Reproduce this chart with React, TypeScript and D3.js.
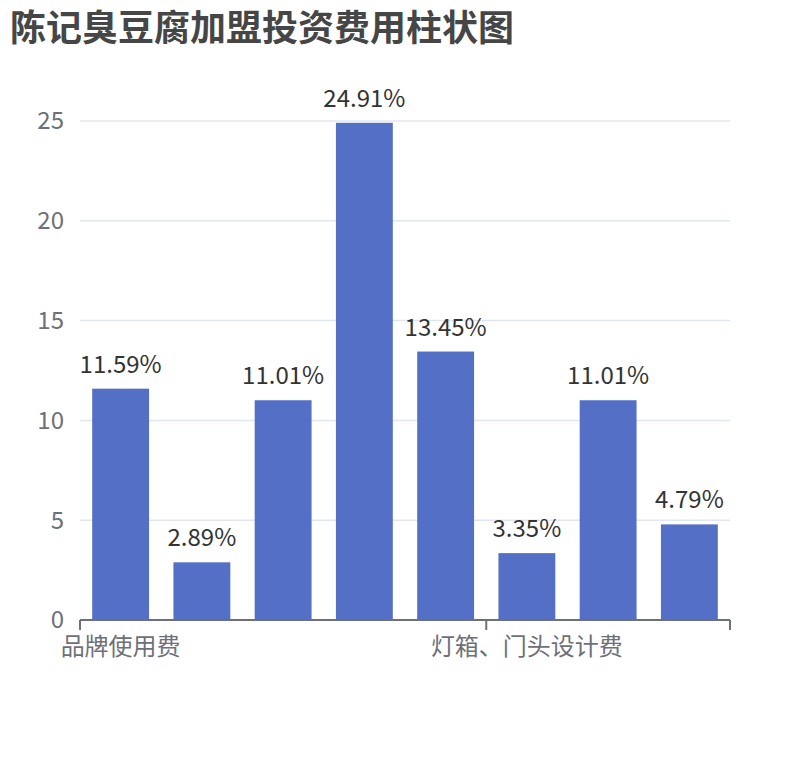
import * as React from "react";
import { scaleBand, scaleLinear } from "d3";

const categories = [
  "品牌使用费",
  "加盟保证金",
  "设备费用",
  "店面装修费",
  "首批原料费",
  "灯箱、门头设计费",
  "店面租金",
  "流动资金",
];
const values = [11.59, 2.89, 11.01, 24.91, 13.45, 3.35, 11.01, 4.79];
const yTicks = [0, 5, 10, 15, 20, 25];
// ECharts hides overlapping category labels; only these survive
const shownLabels = [0, 5];

const FONT = "'Noto Sans CJK SC', 'Noto Sans', sans-serif";

export default function App() {
  const width = 810;
  const height = 760;
  const margin = { top: 121, right: 80, bottom: 140, left: 80 };
  const innerW = width - margin.left - margin.right;
  const innerH = 620 - margin.top;

  const x = scaleBand<string>()
    .domain(categories)
    .range([0, innerW])
    .paddingInner(0.3)
    .paddingOuter(0.15);
  const band = scaleBand<string>().domain(categories).range([0, innerW]);
  const y = scaleLinear().domain([0, 25]).range([innerH, 0]);

  const tickPositions = [...shownLabels.map((i) => band(categories[i])!), innerW];

  return (
    <svg
      width={width}
      height={height}
      style={{ position: "absolute", left: 0, top: 0, background: "#fff" }}
      fontFamily={FONT}
    >
      <text x={10} y={41} fontSize={36} fontWeight="bold" fill="#464646">
        陈记臭豆腐加盟投资费用柱状图
      </text>
      <g transform={`translate(${margin.left}, ${margin.top})`}>
        {yTicks.map((t) => (
          <g key={`y-${t}`}>
            {t > 0 && (
              <line x1={0} x2={innerW} y1={y(t)} y2={y(t)} stroke="#E0E6F1" strokeWidth={1.5} />
            )}
            <text
              x={-16}
              y={y(t)}
              dy="0.35em"
              textAnchor="end"
              fontSize={24}
              fill="#6E7079"
            >
              {t}
            </text>
          </g>
        ))}
        {categories.map((c, i) => (
          <g key={`bar-${c}`}>
            <rect
              x={x(c)}
              y={y(values[i])}
              width={x.bandwidth()}
              height={innerH - y(values[i])}
              fill="#5470C6"
            />
            <text
              x={x(c)! + x.bandwidth() / 2}
              y={y(values[i]) - 16}
              textAnchor="middle"
              fontSize={24}
              fill="#333"
            >
              {values[i].toFixed(2)}%
            </text>
          </g>
        ))}
        <line x1={0} x2={innerW} y1={innerH} y2={innerH} stroke="#6E7079" strokeWidth={2} />
        {tickPositions.map((p, i) => (
          <line key={`tick-${i}`} x1={p} x2={p} y1={innerH} y2={innerH + 10} stroke="#6E7079" strokeWidth={2} />
        ))}
        {shownLabels.map((i) => (
          <text
            key={`xl-${i}`}
            x={band(categories[i])! + band.bandwidth() / 2}
            y={innerH + 15}
            dy="0.85em"
            textAnchor="middle"
            fontSize={24}
            fill="#6E7079"
          >
            {categories[i]}
          </text>
        ))}
      </g>
    </svg>
  );
}
